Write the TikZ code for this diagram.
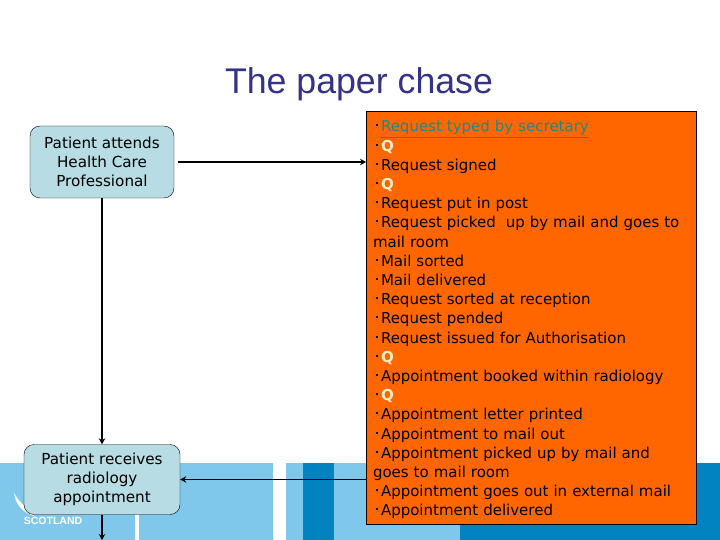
\documentclass[tikz,border=0pt]{standalone}
\usepackage{fontspec}
\usepackage{amsmath}
\usetikzlibrary{arrows.meta}
\setmainfont{Liberation Sans}
\newfontfamily\handfont{DejaVu Sans}
\definecolor{bandlight}{HTML}{7FC8EC}
\definecolor{banddark}{HTML}{0083BF}
\definecolor{boxblue}{HTML}{B7DCE3}
\definecolor{boxorange}{HTML}{FF6600}
\definecolor{titleblue}{HTML}{333388}
\definecolor{linkteal}{HTML}{1F8A80}
\definecolor{qcream}{HTML}{FFF0C8}
\newcommand{\itm}{\makebox[8pt][r]{\raisebox{5.5pt}{\rule{2pt}{2pt}}\hspace{3.5pt}}}
\newcommand{\qline}{\itm{\color{qcream}\textbf{Q}}}
\tikzset{
    patientbox/.style={draw, fill=boxblue, rounded corners=10pt, align=center, inner sep=0pt,
        font=\handfont\fontsize{15.2}{19.2}\selectfont},
    stepsbox/.style={draw, fill=boxorange, line width=0.9pt, align=left, inner ysep=0pt, inner xsep=6.5pt,
        font=\handfont\fontsize{15}{19.2}\selectfont},
    flow/.style={line width=1.8pt, -{Stealth[length=6pt,width=6.5pt]}}
}
\begin{document}
\begin{tikzpicture}[x=1pt,y=-1pt]
                \useasboundingbox (0,0) rectangle (720,540);
                \fill[white] (0,0) rectangle (720,540);

                \fill[bandlight] (0,463) rectangle (273,540);
                \fill[bandlight] (286,463) rectangle (460,540);
                \fill[banddark] (303,463) rectangle (334,540);
                \fill[banddark] (460,463) rectangle (720,540);
                \fill[white] (135,510) rectangle (138.5,540);
                \fill[white] (14,493) .. controls (16,505) and (22,512) .. (34,516) -- (34,511) .. controls (26,509) and (20,503) .. (14,493);
                \fill[white] (586,522) rectangle (592,524.5);
                \node [white, font=\bfseries\fontsize{10.5}{12}\selectfont, inner sep=0pt] (logo) at (53,520.5) {SCOTLAND};

                \node [titleblue, font=\fontsize{35.7}{40}\selectfont, inner sep=0pt] (title) at (359,84) {The paper chase};

                \node [patientbox, minimum width=144pt, minimum height=72pt] (hcp) at (102,162) {Patient attends\\Health Care\\Professional};
                \node [patientbox, minimum width=156pt, minimum height=70pt] (appt) at (102,479.5) {Patient receives\\radiology\\appointment};
                \node [stepsbox, minimum width=330pt, minimum height=413pt, text width=317pt] (steps) at (531.5,317.5) {%
                \rule{0pt}{16pt}\itm{\color{linkteal}\underline{Request typed by secretary}}\\
                \qline\\
                \itm Request signed\\
                \qline\\
                \itm Request put in post\\
                \itm Request picked\ \ up by mail and goes to\\
                mail room\\
                \itm Mail sorted\\
                \itm Mail delivered\\
                \itm Request sorted at reception\\
                \itm Request pended\\
                \itm Request issued for Authorisation\\
                \qline\\
                \itm Appointment booked within radiology\\
                \qline\\
                \itm Appointment letter printed\\
                \itm Appointment to mail out\\
                \itm Appointment picked up by mail and\\
                goes to mail room\\
                \itm Appointment goes out in external mail\\
                \itm Appointment delivered};

                \coordinate (exit) at (102,540);

                \draw[flow] (hcp) -- (appt);
                \draw[flow, shorten <=3.5pt] (hcp.east) -- (hcp.east -| steps.west);
                \draw[flow] (appt.east -| steps.west) -- (appt.east);
                \draw[flow] (appt) -- (exit);
                \end{tikzpicture}
\end{document}
